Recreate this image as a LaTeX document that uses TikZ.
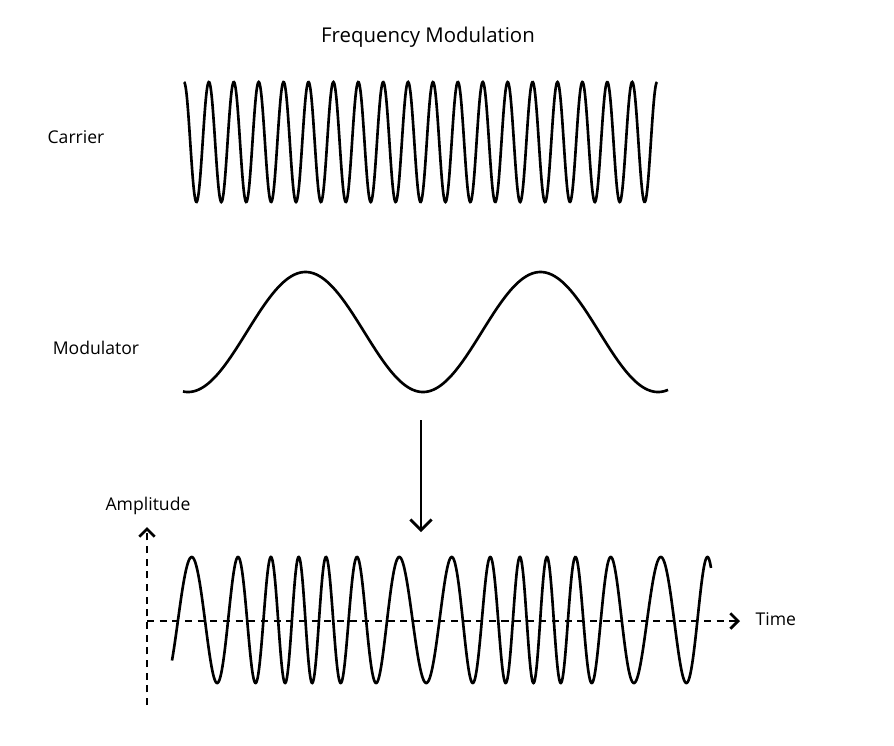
\documentclass[tikz,border=0pt]{standalone}
\usepackage{fontspec}
\setmainfont{Open Sans}
\usetikzlibrary{arrows.meta}
\begin{document}
\begin{tikzpicture}[x=0.01cm,y=-0.01cm,
  wave/.style={line width=0.75pt,smooth,samples=600},
  lbl/.style={font=\fontsize{5}{6}\selectfont,inner sep=0pt},
  axis/.style={dashed,line width=0.6pt,dash pattern=on 2pt off 1.6pt,-{Straight Barb[length=2.2pt,width=4.4pt,line width=0.8pt]}}]
  \useasboundingbox (0,0) rectangle (894,745);
  % labels
  \node[lbl,font=\fontsize{5.8}{7}\selectfont] (title) at (428,37) {Frequency Modulation};
  \node[lbl] (carrier) at (76,137) {Carrier};
  \node[lbl] (modulator) at (96,348) {Modulator};
  \node[lbl] (amp) at (148,506) {Amplitude};
  \node[lbl,anchor=west] (time) at (755,619) {Time};
  % carrier
  \draw[wave,domain=184:657,samples=900] plot (\x,{142-60*cos(14.458*(\x-184))});
  % modulator
  \draw[wave,domain=183:668] plot (\x,{332+60*cos(1.532*(\x-423))});
  % arrow down
  \coordinate (a1) at (421,420);
  \coordinate (a2) at (421,532);
  \draw[line width=0.75pt,-{Straight Barb[length=3pt,width=6pt,line width=0.8pt]}] (a1) -- (a2);
  % axes
  \coordinate (o1) at (147,705);
  \coordinate (o2) at (147,527);
  \coordinate (t1) at (147,621);
  \coordinate (t2) at (740,621);
  \draw[axis] (o1) -- (o2);
  \draw[axis] (t1) -- (t2);
  % modulated wave
  \draw[wave,domain=172:711,samples=1200] plot (\x,{620-63*sin(9.97*(\x-172)+127.9*sin(1.532*(\x-302))-127.9*sin(1.532*(172-302))-40)});
\end{tikzpicture}
\end{document}
